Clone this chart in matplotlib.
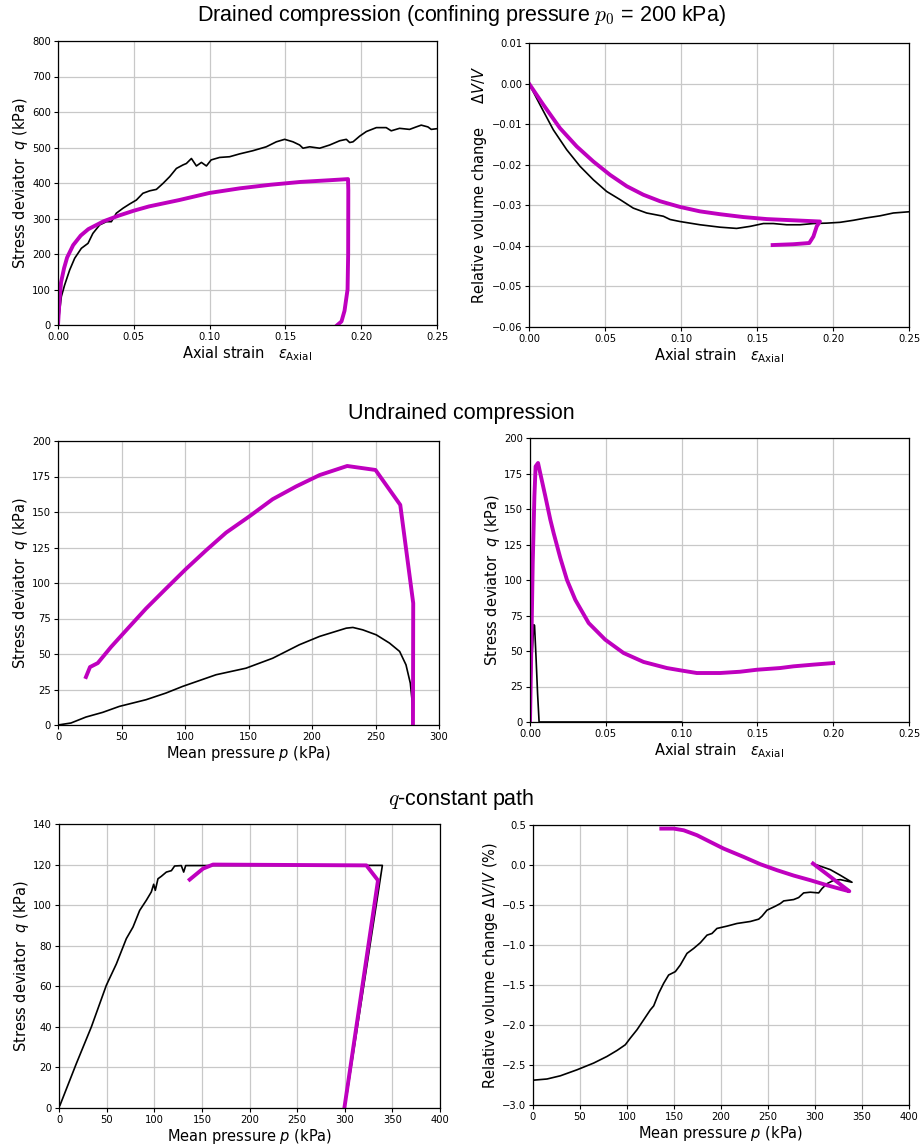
import numpy as np
import matplotlib
matplotlib.use('Agg')
import matplotlib.pyplot as plt

# drained compression, q vs axial strain
dr_eps_exp = [0, 0.0022, 0.0044, 0.0077, 0.011, 0.0154, 0.0198, 0.023, 0.0275, 0.0319, 0.0352, 0.0385,
              0.0429, 0.0473, 0.0517, 0.056, 0.0605, 0.0649, 0.0693, 0.0737, 0.0781, 0.0825, 0.0847, 0.088,
              0.0913, 0.0946, 0.0979, 0.101, 0.1066, 0.1132, 0.1198, 0.1286, 0.1374, 0.144, 0.1495, 0.155,
              0.1594, 0.1616, 0.166, 0.1726, 0.1792, 0.1858, 0.1902, 0.1924, 0.1946, 0.199, 0.2034, 0.21,
              0.2165, 0.2198, 0.2253, 0.2319, 0.2363, 0.2396, 0.244, 0.2462, 0.25]
dr_q_exp = [0, 80, 113, 155, 188, 216, 230, 258, 282, 291, 291, 315,
            329, 341, 352, 371, 378, 382, 399, 418, 441, 451, 455, 469,
            448, 458, 448, 465, 472, 474, 482, 491, 502, 516, 523, 516,
            507, 498, 502, 498, 507, 519, 523, 514, 516, 532, 545, 556,
            556, 547, 554, 551, 558, 563, 558, 551, 553]
dr_eps_sim = [0, 0.001, 0.002, 0.004, 0.006, 0.01, 0.015, 0.02, 0.03, 0.04, 0.05, 0.06, 0.08, 0.10,
              0.12, 0.14, 0.16, 0.18, 0.1913, 0.1915, 0.1914, 0.191, 0.189, 0.187, 0.1843]
dr_q_sim = [0, 70, 120, 160, 190, 225, 252, 270, 292, 308, 322, 334, 352, 372,
            385, 395, 403, 408, 411, 380, 200, 100, 40, 10, 0]

# drained compression, volume change vs axial strain
dr_veps_exp = [0, 0.0072, 0.016, 0.0248, 0.0336, 0.0423, 0.0511, 0.0599, 0.0686, 0.0774, 0.0884, 0.0928,
               0.0993, 0.1125, 0.1257, 0.1366, 0.1454, 0.1542, 0.1607, 0.1695, 0.1783, 0.1871, 0.1958,
               0.2046, 0.2134, 0.2221, 0.2309, 0.2397, 0.25]
dr_dv_exp = [0, -0.0052, -0.0114, -0.0163, -0.0204, -0.0237, -0.0266, -0.0286, -0.0307, -0.0319, -0.0327,
             -0.0335, -0.0340, -0.0348, -0.0354, -0.0357, -0.0352, -0.0345, -0.0345, -0.0348, -0.0348,
             -0.0345, -0.0344, -0.0342, -0.0337, -0.0331, -0.0326, -0.0319, -0.0316]
dr_veps_sim = [0, 0.0094, 0.0204, 0.0314, 0.0423, 0.0533, 0.0643, 0.0752, 0.0862, 0.0993, 0.1125, 0.1257,
               0.141, 0.1564, 0.1739, 0.1914, 0.1893, 0.1871, 0.1844, 0.1739, 0.1603]
dr_dv_sim = [0, -0.0052, -0.011, -0.0155, -0.0192, -0.0225, -0.0253, -0.0274, -0.029, -0.0304, -0.0315,
             -0.0322, -0.0329, -0.0334, -0.0337, -0.034, -0.0352, -0.0377, -0.0393, -0.0396, -0.0398]

# undrained compression, q vs p
ud_p_exp = [0, 10.2, 22, 35.2, 48.3, 69.3, 85, 98.2, 124.5, 148, 169, 190, 206, 227, 232.2, 240,
            250.6, 261, 269, 274, 277.4, 279, 279.2]
ud_q_exp = [0, 1.4, 5.6, 8.9, 13.1, 17.8, 22.5, 27.2, 35.4, 40, 47, 56.5, 62.4, 68.2, 68.7, 67,
            63.5, 57.7, 51.8, 42.4, 29.5, 15.5, 6.6]
ud_p_sim = [279.5, 279.7, 269.5, 250, 227.7, 206, 187.5, 169, 150.8, 132.4, 116.6, 100.9, 85, 69.3,
            56, 41.8, 31.3, 25.2, 22]
ud_q_sim = [0, 85.8, 155, 179.6, 182.4, 176, 168, 159, 147, 135.5, 123, 110, 96, 82,
            69, 55, 43.6, 40.8, 33.8]

# undrained compression, q vs axial strain
ud_eps_exp = [0, 0.001, 0.0025, 0.003, 0.004, 0.005, 0.006, 0.1]
ud_qe_exp = [0, 40, 68.5, 68, 45, 20, 0, 0]
ud_eps_sim = [0, 0.0007, 0.0018, 0.0029, 0.0037, 0.0053, 0.0068, 0.0101, 0.0134, 0.0156, 0.02, 0.0244,
              0.0299, 0.0387, 0.0496, 0.0617, 0.0749, 0.0903, 0.0991, 0.11, 0.1254, 0.1386, 0.1496,
              0.165, 0.1738, 0.1869, 0.2]
ud_qe_sim = [0, 41.5, 112, 159, 180, 182.4, 175, 159, 142.5, 133, 115.5, 100,
             86, 69.7, 58, 48.6, 42.3, 38, 36.4, 34.5, 34.5, 35.4, 36.8,
             38, 39.2, 40.4, 41.5]

# q-constant path, q vs p
qc_p_exp = [1, 18.2, 34, 49.7, 60.2, 70.7, 77.7, 84.7, 91.7, 96.9, 99.4, 101.1, 103.9, 107.4, 112.7,
            118, 121.4, 128.4, 130.9, 133, 339.5, 302.7]
qc_q_exp = [1.3, 21.9, 40, 60.5, 71, 83.5, 89.2, 97.4, 102.4, 106.5, 110.3, 107.3, 113, 114.2, 116.3,
            117, 119.3, 119.5, 116.3, 119.5, 119.6, 7.9]
qc_p_sim = [299.6, 334.9, 322.7, 161.7, 151.2, 137.2]
qc_q_sim = [0, 112.2, 119.6, 120, 118, 112.6]

# q-constant path, volume change vs p
qc_vp_exp = [0, 14.9, 29.1, 46.8, 64.5, 78.7, 89.4, 98.2, 103.5, 110.6, 117.7, 124.8, 128.4, 133.7,
             139, 144.3, 151.4, 156.7, 163.8, 170.9, 178, 185.1, 190.4, 195.7, 206.4, 217, 231.2,
             240.1, 243.6, 248.9, 257.8, 263.1, 266.7, 277.3, 282.6, 287.9, 295, 303.9, 307.4, 312.8,
             319.9, 327, 339.4, 327, 316.3, 302.8]
qc_dv_exp = [-2.69, -2.675, -2.635, -2.56, -2.476, -2.393, -2.318, -2.247, -2.164, -2.06, -1.936, -1.811,
             -1.761, -1.604, -1.479, -1.375, -1.333, -1.25, -1.105, -1.043, -0.972, -0.877, -0.856,
             -0.793, -0.764, -0.731, -0.706, -0.677, -0.64, -0.565, -0.515, -0.482, -0.449, -0.432,
             -0.407, -0.349, -0.34, -0.349, -0.295, -0.233, -0.191, -0.183, -0.216, -0.129, -0.058,
             -0.003]
qc_vp_sim = [136.5, 149.6, 160.3, 174.5, 188.7, 202.8, 224.1, 241.8, 259.6, 277.3, 295, 312.8, 327,
             336.5, 297.9]
qc_dv_sim = [0.455, 0.455, 0.434, 0.372, 0.288, 0.205, 0.101, 0.01, -0.065, -0.132, -0.19, -0.253,
             -0.299, -0.328, 0.018]

W, H = 922, 1148
MAG = '#bf00bf'
plt.rcParams['font.size'] = 7.2
plt.rcParams['axes.linewidth'] = 0.9
for a in ('xtick', 'ytick'):
    plt.rcParams[a + '.major.size'] = 3
    plt.rcParams[a + '.major.pad'] = 2
plt.rcParams['axes.labelpad'] = 1.5

fig = plt.figure(figsize=(W / 100, H / 100), dpi=100)


def add_ax(x0, y0, x1, y1):
    # pixel box -> figure fraction
    ax = fig.add_axes([x0 / W, 1 - y1 / H, (x1 - x0) / W, (y1 - y0) / H])
    ax.grid(True, color='#c8c8c8', lw=0.9)
    ax.set_axisbelow(True)
    return ax


LAB = 10.5
eps_label = r'Axial strain   $\varepsilon_{\rm Axial}$'
q_label = r'Stress deviator  $q$ (kPa)'
p_label = r'Mean pressure $p$ (kPa)'

ax1 = add_ax(58, 41, 437, 325)
ax1.plot(dr_eps_exp, dr_q_exp, color='k', lw=1.2)
ax1.plot(dr_eps_sim, dr_q_sim, color=MAG, lw=2.8)
ax1.set_xlim(0, 0.25)
ax1.set_ylim(0, 800)
ax1.set_xlabel(eps_label, fontsize=LAB)
ax1.set_ylabel(q_label, fontsize=LAB)

ax2 = add_ax(529, 43, 909, 327)
ax2.plot(dr_veps_exp, dr_dv_exp, color='k', lw=1.2)
ax2.plot(dr_veps_sim, dr_dv_sim, color=MAG, lw=2.8)
ax2.set_xlim(0, 0.25)
ax2.set_ylim(-0.06, 0.01)
ax2.set_xlabel(eps_label, fontsize=LAB)
ax2.set_ylabel(r'Relative volume change     $\Delta V/V$', fontsize=LAB)

ax3 = add_ax(58, 441, 439, 725)
ax3.plot(ud_p_exp, ud_q_exp, color='k', lw=1.2)
ax3.plot(ud_p_sim, ud_q_sim, color=MAG, lw=2.8)
ax3.set_xlim(0, 300)
ax3.set_ylim(0, 200)
ax3.set_xlabel(p_label, fontsize=LAB)
ax3.set_ylabel(q_label, fontsize=LAB)

ax4 = add_ax(530, 438, 909, 722)
ax4.plot(ud_eps_exp, ud_qe_exp, color='k', lw=1.2)
ax4.plot(ud_eps_sim, ud_qe_sim, color=MAG, lw=2.8)
ax4.set_xlim(0, 0.25)
ax4.set_ylim(0, 200)
ax4.set_xlabel(eps_label, fontsize=LAB)
ax4.set_ylabel(q_label, fontsize=LAB)

ax5 = add_ax(59, 824, 440, 1108)
ax5.plot(qc_p_exp, qc_q_exp, color='k', lw=1.2)
ax5.plot(qc_p_sim, qc_q_sim, color=MAG, lw=2.8)
ax5.set_xlim(0, 400)
ax5.set_ylim(0, 140)
ax5.set_xlabel(p_label, fontsize=LAB)
ax5.set_ylabel(q_label, fontsize=LAB)

ax6 = add_ax(533, 825, 909, 1105)
ax6.plot(qc_vp_exp, qc_dv_exp, color='k', lw=1.2)
ax6.plot(qc_vp_sim, qc_dv_sim, color=MAG, lw=2.8)
ax6.set_xlim(0, 400)
ax6.set_ylim(-3.0, 0.5)
ax6.set_xlabel(p_label, fontsize=LAB)
ax6.set_ylabel(r'Relative volume change $\Delta V/V$ (%)', fontsize=LAB)

# section titles
tkw = dict(ha='center', va='center', fontsize=15.5, family='Liberation Sans', math_fontfamily='cm')
fig.text(0.5, 1 - 15 / H, r'Drained compression (confining pressure $p_0$ = 200 kPa)', **tkw)
fig.text(0.5, 1 - 413 / H, 'Undrained compression', **tkw)
fig.text(0.5, 1 - 800 / H, r'$q$-constant path', **tkw)

fig.savefig('out.png', dpi=100)
